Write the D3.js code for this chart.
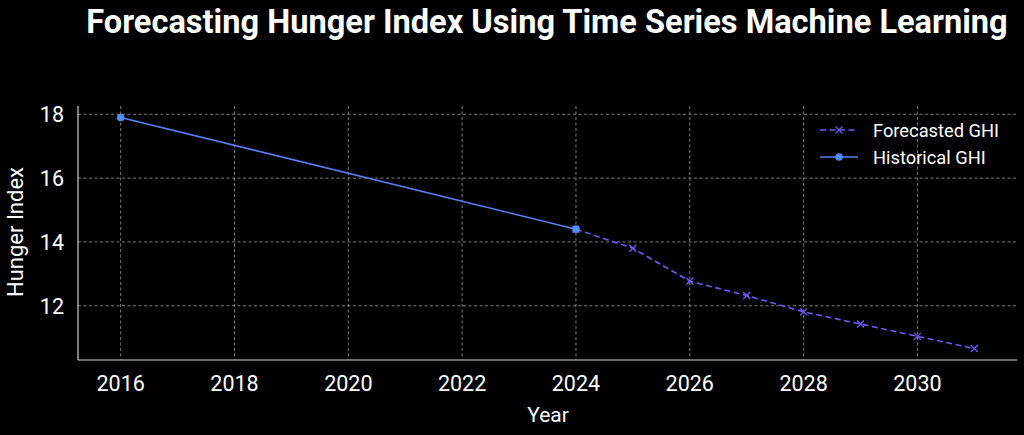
<!DOCTYPE html>
<html><head><meta charset="utf-8">
<script src="https://cdn.jsdelivr.net/npm/d3@7"></script>
<style>body{margin:0;background:#000;}svg{display:block;}text{font-family:Roboto,"Noto Sans",sans-serif;}</style>
</head><body>
<svg id="c" width="1024" height="435"></svg>
<script>
const histYears = [2016, 2024];
const histValues = [17.9, 14.4];
const foreYears = [2024, 2025, 2026, 2027, 2028, 2029, 2030, 2031];
const foreValues = [14.4, 13.8, 12.77, 12.32, 11.81, 11.43, 11.04, 10.66];
const xTicks = [2016, 2018, 2020, 2022, 2024, 2026, 2028, 2030];
const yTicks = [12, 14, 16, 18];
const title = "Forecasting Hunger Index Using Time Series Machine Learning";
const legendLabels = ["Forecasted GHI", "Historical GHI"];

const svg = d3.select("#c");
const L = 78, R = 1017, T = 106, B = 360;
const x = d3.scaleLinear().domain([2015.25, 2031.75]).range([L, R]);
const y = d3.scaleLinear().domain([10.3, 18.26]).range([B, T]);

const grid = svg.append("g");
xTicks.forEach(t => grid.append("line").attr("x1", x(t)).attr("x2", x(t)).attr("y1", T).attr("y2", B)
  .attr("stroke", "#8a8a8a").attr("stroke-width", 0.9).attr("stroke-dasharray", "3,2.5"));
yTicks.forEach(t => grid.append("line").attr("x1", L).attr("x2", R).attr("y1", y(t)).attr("y2", y(t))
  .attr("stroke", "#8a8a8a").attr("stroke-width", 0.9).attr("stroke-dasharray", "3,2.5"));

// spines
svg.append("line").attr("x1", L).attr("x2", L).attr("y1", T).attr("y2", B).attr("stroke", "#d0d0d0").attr("stroke-width", 1.2);
svg.append("line").attr("x1", L).attr("x2", R).attr("y1", B).attr("y2", B).attr("stroke", "#d0d0d0").attr("stroke-width", 1.2);

// tick labels
svg.append("g").selectAll("text").data(xTicks).join("text")
  .attr("x", d => x(d)).attr("y", 391).attr("text-anchor", "middle")
  .attr("fill", "#fff").attr("font-size", 21.5).text(d => d);
svg.append("g").selectAll("text").data(yTicks).join("text")
  .attr("x", 64).attr("y", d => y(d) + 8).attr("text-anchor", "end")
  .attr("fill", "#fff").attr("font-size", 21.5).text(d => d);

svg.append("text").attr("x", 548).attr("y", 422).attr("text-anchor", "middle")
  .attr("fill", "#fff").attr("font-size", 21).text("Year");
svg.append("text").attr("transform", `translate(23,${(T + B) / 2 - 1}) rotate(-90)`).attr("text-anchor", "middle")
  .attr("fill", "#fff").attr("font-size", 22).text("Hunger Index");

svg.append("text").attr("x", 547).attr("y", 33).attr("text-anchor", "middle")
  .attr("fill", "#fff").attr("font-size", 32.6).attr("font-weight", "bold").text(title);

const histColor = "#5b7ff5", histMarker = "#4f8df7", foreColor = "#6b5cf0";
const line = d3.line().x(d => x(d[0])).y(d => y(d[1]));
const hist = histYears.map((d, i) => [d, histValues[i]]);
const fore = foreYears.map((d, i) => [d, foreValues[i]]);

svg.append("path").datum(fore).attr("d", line).attr("fill", "none").attr("stroke", foreColor)
  .attr("stroke-width", 1.6).attr("stroke-dasharray", "6,3.5");
function xMark(g, cx, cy) {
  const s = 3.5;
  g.append("path").attr("d", `M${cx - s},${cy - s}L${cx + s},${cy + s}M${cx - s},${cy + s}L${cx + s},${cy - s}`)
    .attr("stroke", foreColor).attr("stroke-width", 1.3).attr("fill", "none");
}
const fm = svg.append("g");
fore.forEach(d => xMark(fm, x(d[0]), y(d[1])));

svg.append("path").datum(hist).attr("d", line).attr("fill", "none").attr("stroke", histColor).attr("stroke-width", 1.6);
svg.append("g").selectAll("circle").data(hist).join("circle")
  .attr("cx", d => x(d[0])).attr("cy", d => y(d[1])).attr("r", 3.8).attr("fill", histMarker);

// legend
const lg = svg.append("g");
lg.append("line").attr("x1", 820).attr("x2", 858).attr("y1", 130).attr("y2", 130)
  .attr("stroke", foreColor).attr("stroke-width", 1.6).attr("stroke-dasharray", "6,3.5");
xMark(lg, 839, 130);
lg.append("text").attr("x", 873).attr("y", 137).attr("fill", "#fff").attr("font-size", 18.3).text(legendLabels[0]);
lg.append("line").attr("x1", 820).attr("x2", 858).attr("y1", 157).attr("y2", 157)
  .attr("stroke", histColor).attr("stroke-width", 1.6);
lg.append("circle").attr("cx", 839).attr("cy", 157).attr("r", 3.8).attr("fill", histMarker);
lg.append("text").attr("x", 873).attr("y", 164).attr("fill", "#fff").attr("font-size", 18.3).text(legendLabels[1]);
</script>
</body></html>
